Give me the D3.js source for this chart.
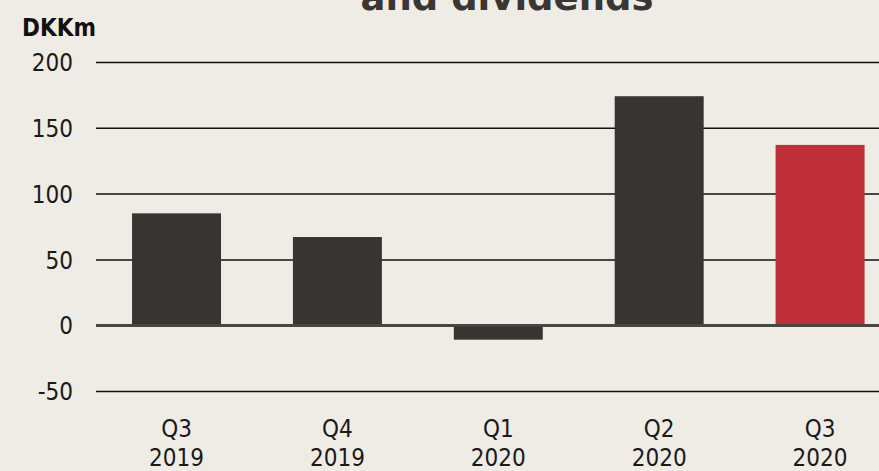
<!DOCTYPE html>
<html>
<head>
<meta charset="utf-8">
<script src="https://cdn.jsdelivr.net/npm/d3@7/dist/d3.min.js"></script>
<style>
  html, body { margin: 0; padding: 0; background: #efebe5; }
  svg { display: block; }
</style>
</head>
<body>
<svg id="chart" width="879" height="471"></svg>
<script>
// Quarterly values, DKKm
const quarters = ["Q3", "Q4", "Q1", "Q2", "Q3"];
const years = ["2019", "2019", "2020", "2020", "2020"];
const values = [85, 67, -11, 174, 137];
const highlight = [false, false, false, false, true];
const yTicks = [-50, 0, 50, 100, 150, 200];
const titleText = "and dividends";
const unitLabel = "DKKm";

const svg = d3.select("#chart");
const W = 879, H = 471;
const labelFont = "'DejaVu Sans', sans-serif";

const y = d3.scaleLinear().domain([-50, 200]).range([391, 62]);
const x = d3.scaleBand()
  .domain(d3.range(values.length))
  .range([96, 900.6])
  .paddingInner(0.447)
  .paddingOuter(0.224);

svg.append("rect").attr("width", W).attr("height", H).attr("fill", "#efebe5");

// Title (runs off the top edge)
svg.append("text")
  .attr("x", 507).attr("y", 10)
  .attr("text-anchor", "middle")
  .attr("font-family", "'DejaVu Sans', sans-serif")
  .attr("font-weight", "bold")
  .attr("font-size", 37)
  .attr("fill", "#3a3633")
  .text(titleText);

// Unit label
svg.append("text")
  .attr("x", 22).attr("y", 36)
  .attr("font-family", labelFont)
  .attr("font-stretch", "condensed")
  .attr("font-weight", "bold")
  .attr("font-size", 24)
  .attr("fill", "#111")
  .text(unitLabel);

// Gridlines and y tick labels
const yAxis = d3.axisLeft(y).tickValues(yTicks).tickSize(-(W - 96)).tickFormat(d => String(d));
const gy = svg.append("g").attr("transform", "translate(96,0)").call(yAxis);
gy.select(".domain").remove();
gy.selectAll(".tick line")
  .attr("stroke", d => d === 0 ? "#4a4643" : "#111")
  .attr("stroke-width", d => d === 0 ? 2.5 : 1.5);
gy.selectAll(".tick text")
  .attr("x", -23)
  .attr("dy", "0.36em")
  .attr("font-family", labelFont)
  .attr("font-stretch", "condensed")
  .attr("font-size", 24)
  .attr("fill", "#1a1a1a");

// Bars
svg.append("g").selectAll("rect")
  .data(values)
  .join("rect")
  .attr("x", (d, i) => x(i))
  .attr("width", x.bandwidth())
  .attr("y", d => y(Math.max(0, d)))
  .attr("height", d => Math.abs(y(d) - y(0)))
  .attr("fill", (d, i) => highlight[i] ? "#be2f37" : "#383431");

// Zero line on top of bars
svg.append("line")
  .attr("x1", 96).attr("x2", W)
  .attr("y1", y(0)).attr("y2", y(0))
  .attr("stroke", "#4a4643").attr("stroke-width", 2.5);

// Category labels
const gx = svg.append("g");
values.forEach((v, i) => {
  const cx = x(i) + x.bandwidth() / 2;
  const t = gx.append("text")
    .attr("x", cx).attr("text-anchor", "middle")
    .attr("font-family", labelFont)
    .attr("font-stretch", "condensed")
    .attr("font-size", 24)
    .attr("fill", "#1a1a1a");
  t.append("tspan").attr("x", cx).attr("y", 437).text(quarters[i]);
  t.append("tspan").attr("x", cx).attr("y", 466).text(years[i]);
});
</script>
</body>
</html>
